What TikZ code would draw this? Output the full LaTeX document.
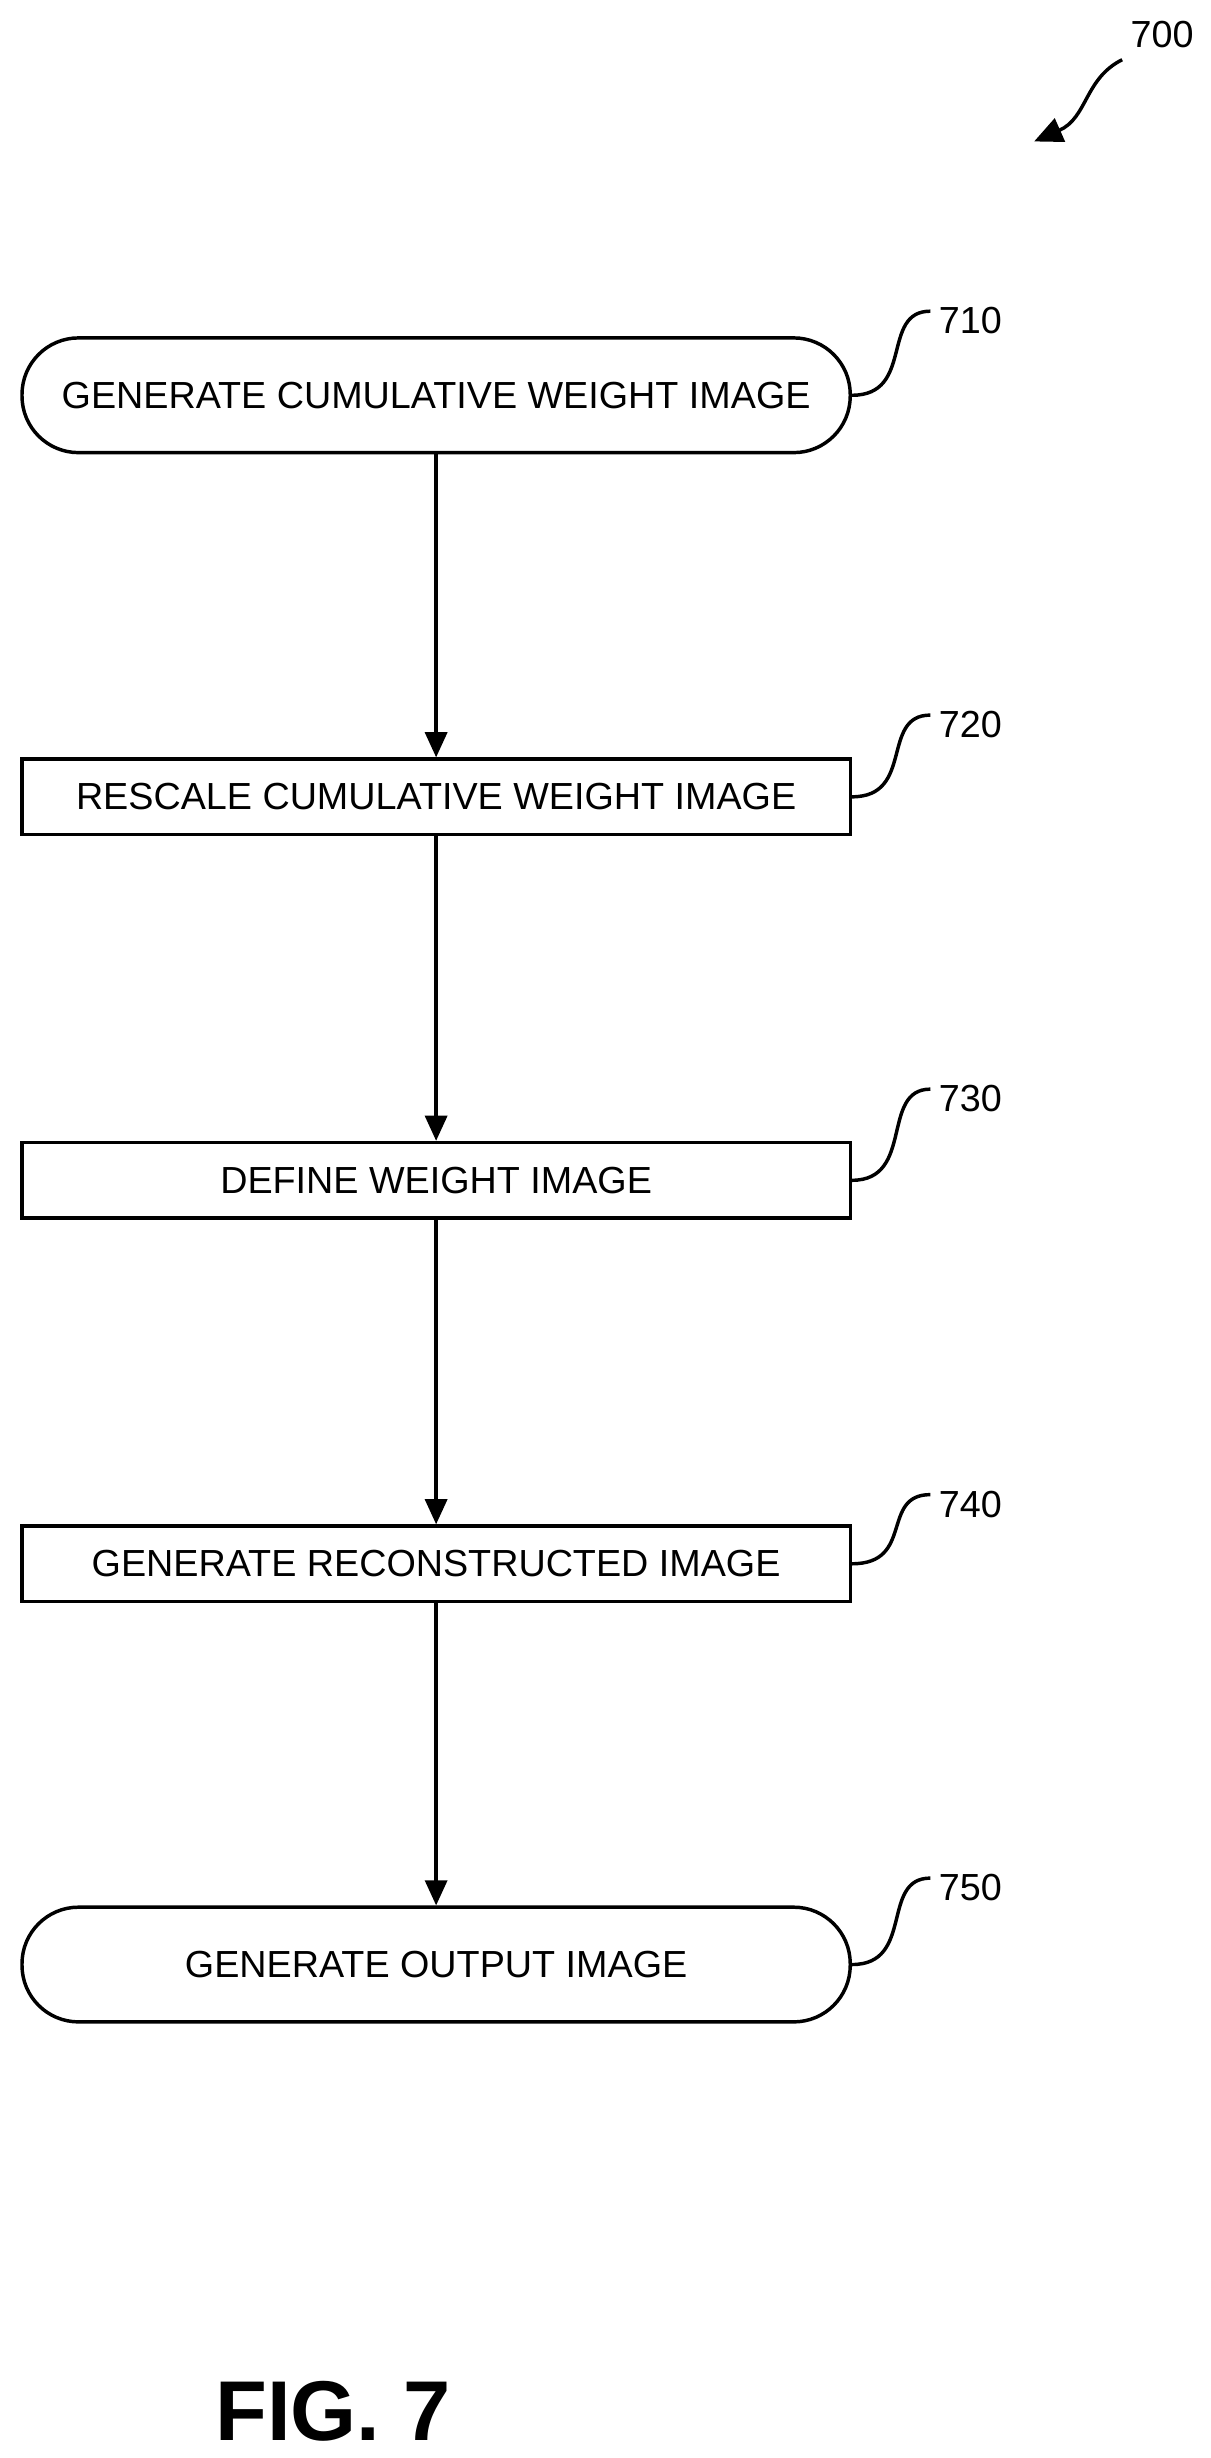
\documentclass[tikz,border=0pt]{standalone}
\usepackage{fontspec}
\setmainfont{Liberation Sans}
\usetikzlibrary{arrows.meta}
\begin{document}
\begin{tikzpicture}[x=0.5pt,y=-0.5pt,
  box/.style={draw,line width=1.1pt,minimum width=263.5pt,inner sep=0pt,font=\fontsize{12}{14}\selectfont},
  rbox/.style={box,rounded corners=18pt,minimum height=36.5pt},
  sbox/.style={box,minimum height=24pt},
  arr/.style={line width=1.1pt,-{Triangle[length=8pt,width=7pt]}},
  lead/.style={line width=1.1pt},
  lbl/.style={font=\fontsize{12}{14}\selectfont,anchor=west,inner sep=0pt}]
\useasboundingbox (0,0) rectangle (770,1564);
\node[rbox] (a) at (277.5,251.5) {GENERATE CUMULATIVE WEIGHT IMAGE};
\node[sbox] (b) at (277.5,507) {RESCALE CUMULATIVE WEIGHT IMAGE};
\node[sbox] (c) at (277.5,751) {DEFINE WEIGHT IMAGE};
\node[sbox] (d) at (277.5,995) {GENERATE RECONSTRUCTED IMAGE};
\node[rbox] (e) at (277.5,1250) {GENERATE OUTPUT IMAGE};
\draw[arr] (a) -- (b);
\draw[arr] (b) -- (c);
\draw[arr] (c) -- (d);
\draw[arr] (d) -- (e);
\foreach \n/\t/\y in {a/710/204,b/720/461,c/730/699,d/740/957,e/750/1201}{
  \node[lbl] (l\n) at (597,\y) {\t};
  \coordinate (s\n) at (592,\y-6);
  \draw[lead] (\n.east) .. controls +(40,0) and (560,\y-6) .. (s\n);
}
\node[lbl] (l700) at (719,22) {700};
\coordinate (t700) at (658,90);
\draw[line width=1.1pt,-{Triangle[length=9pt,width=8pt]}] (714,38) .. controls (690,50) and (692,75) .. (t700);
\node[font=\bfseries\fontsize{27}{30}\selectfont] (fig) at (212,1534) {FIG. 7};
\end{tikzpicture}
\end{document}
